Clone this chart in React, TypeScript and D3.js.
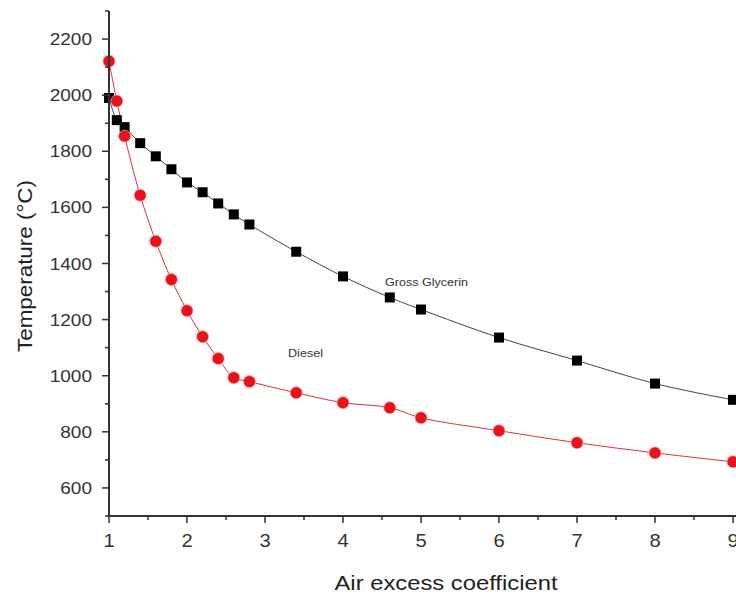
import React from "react";
import * as d3 from "d3";

const xValues = [1, 1.1, 1.2, 1.4, 1.6, 1.8, 2, 2.2, 2.4, 2.6, 2.8, 3.4, 4, 4.6, 5, 6, 7, 8, 9];
const glycerin = [1990, 1911, 1886, 1829, 1782, 1736, 1689, 1654, 1614, 1575, 1539, 1442, 1354, 1279, 1236, 1136, 1054, 972, 914];
const diesel = [2121, 1979, 1854, 1643, 1479, 1343, 1232, 1139, 1061, 993, 979, 939, 904, 886, 850, 804, 761, 725, 693];
const xTicks = [1, 2, 3, 4, 5, 6, 7, 8, 9];
const yTicks = [600, 800, 1000, 1200, 1400, 1600, 1800, 2000, 2200];

const width = 736;
const height = 599;
const left = 109;
const right = 733;
const top = 11;
const bottom = 516;

const x = d3.scaleLinear().domain([1, 9]).range([left, right]);
const y = d3.scaleLinear().domain([500, 2300]).range([bottom, top]);

const line = d3
  .line<number>()
  .x((_, i) => x(xValues[i]))
  .y((d) => y(d))
  .curve(d3.curveCatmullRom);

const xMinor = d3.range(1.5, 9, 1);
const yMinor = d3.range(500, 2301, 100).filter((v) => v % 200 !== 0);

const font = "Arial, 'Liberation Sans', sans-serif";
// the picture is a little stretched sideways, so text is too
const sx = 1.12;

const App = () => {
  return (
    <svg
      width={width}
      height={height}
      style={{ position: "absolute", left: 0, top: 0, background: "#fff" }}
      fontFamily={font}
    >
      <path d={line(glycerin) ?? ""} fill="none" stroke="#444" strokeWidth={1} />
      <path d={line(diesel) ?? ""} fill="none" stroke="#e0303a" strokeWidth={1} />
      {glycerin.map((v, i) => (
        <rect key={"g" + i} x={x(xValues[i]) - 5} y={y(v) - 5} width={10} height={10} fill="#000" />
      ))}
      {diesel.map((v, i) => (
        <circle key={"d" + i} cx={x(xValues[i])} cy={y(v)} r={6} fill="#e8121b" stroke="#f4a0a0" strokeWidth={0.8} />
      ))}

      {/* axes */}
      <line x1={left} x2={width} y1={bottom} y2={bottom} stroke="#333" strokeWidth={2} />
      <line x1={left} x2={left} y1={top} y2={bottom} stroke="#333" strokeWidth={2} />
      {xTicks.map((t) => (
        <g key={"xt" + t}>
          <line x1={x(t)} x2={x(t)} y1={bottom} y2={bottom + 7} stroke="#333" strokeWidth={1.5} />
          <text
            transform={`translate(${x(t)},${bottom + 31}) scale(${sx},1)`}
            textAnchor="middle"
            fontSize={18}
            fill="#333"
          >
            {t}
          </text>
        </g>
      ))}
      {xMinor.map((t) => (
        <line key={"xm" + t} x1={x(t)} x2={x(t)} y1={bottom} y2={bottom + 4} stroke="#333" strokeWidth={1.5} />
      ))}
      {yTicks.map((t) => (
        <g key={"yt" + t}>
          <line x1={left - 7} x2={left} y1={y(t)} y2={y(t)} stroke="#333" strokeWidth={1.5} />
          <text
            transform={`translate(${left - 17},${y(t) + 6}) scale(${sx},1)`}
            textAnchor="end"
            fontSize={17}
            fill="#333"
          >
            {t}
          </text>
        </g>
      ))}
      {yMinor.map((t) => (
        <line key={"ym" + t} x1={left - 4} x2={left} y1={y(t)} y2={y(t)} stroke="#333" strokeWidth={1.5} />
      ))}

      <text
        x={446}
        y={590}
        textAnchor="middle"
        fontSize={21}
        fill="#222"
        textLength={223}
        lengthAdjust="spacingAndGlyphs"
      >
        Air excess coefficient
      </text>
      <text
        transform="translate(32,266) rotate(-90)"
        textAnchor="middle"
        fontSize={21}
        fill="#222"
        textLength={172}
        lengthAdjust="spacingAndGlyphs"
      >
        Temperature (°C)
      </text>
      <text x={385} y={286} fontSize={10} fill="#333" textLength={83} lengthAdjust="spacingAndGlyphs">
        Gross Glycerin
      </text>
      <text x={288} y={357} fontSize={10} fill="#333" textLength={35} lengthAdjust="spacingAndGlyphs">
        Diesel
      </text>
    </svg>
  );
};

export default App;
